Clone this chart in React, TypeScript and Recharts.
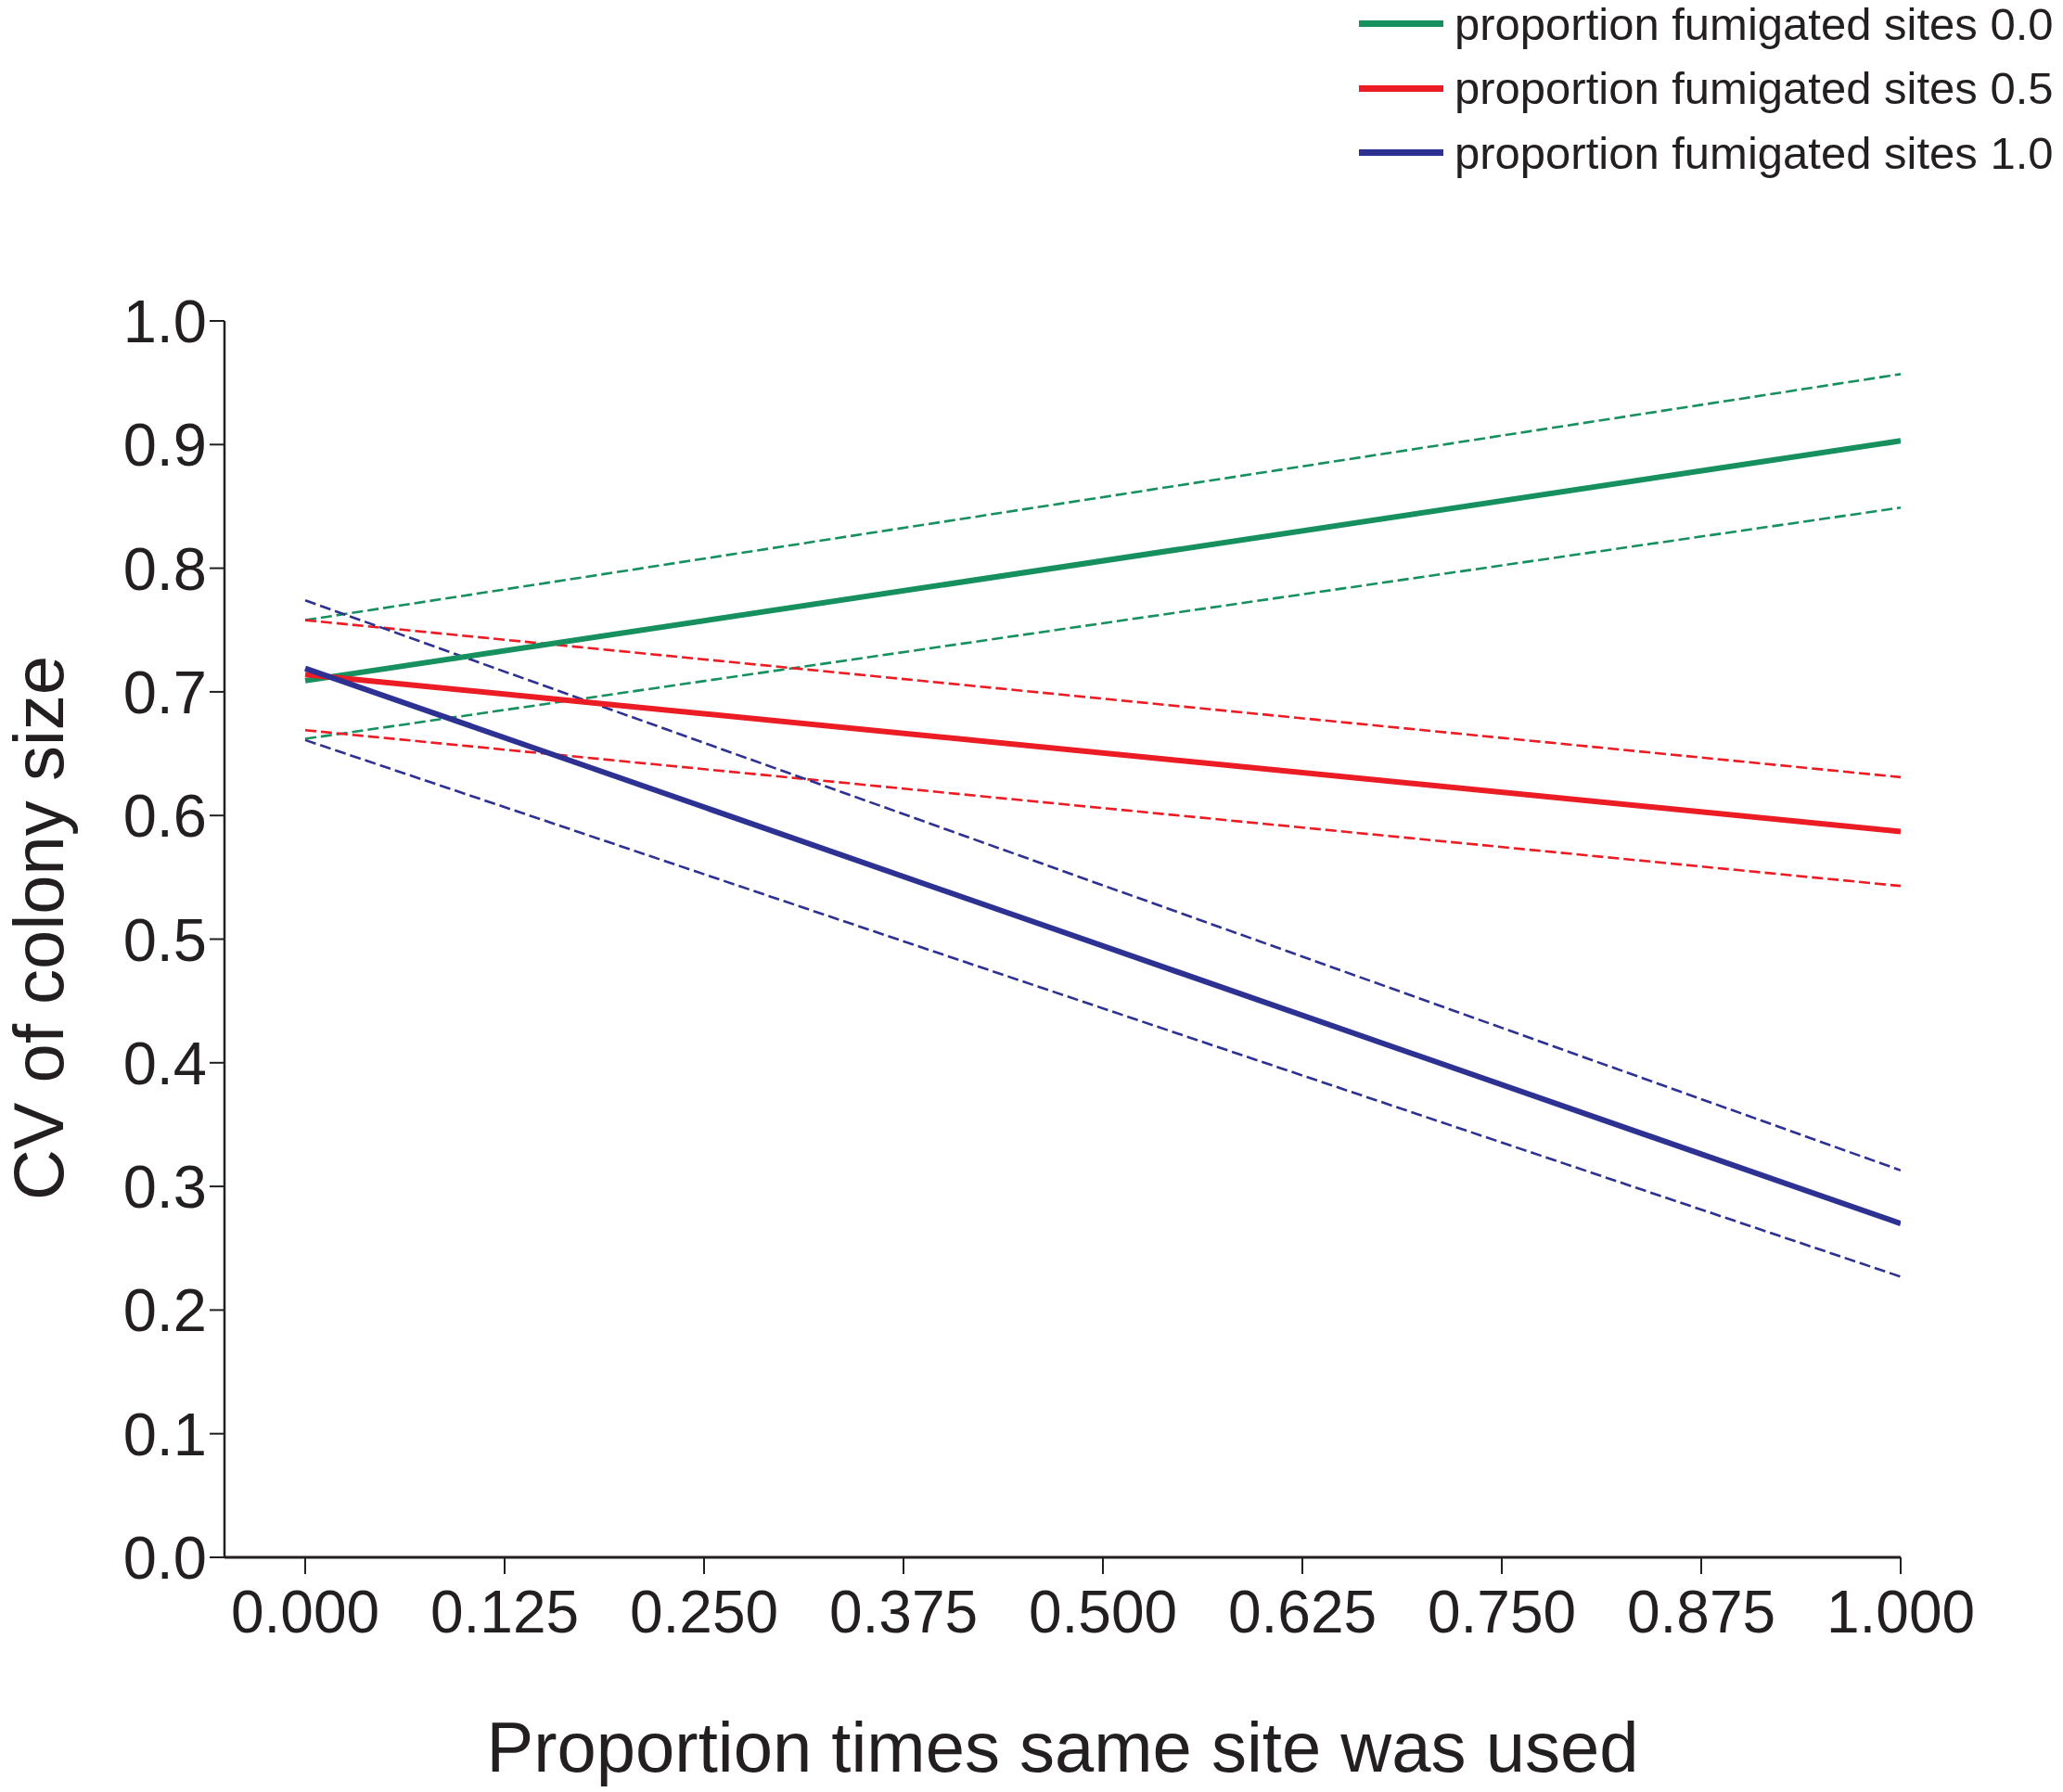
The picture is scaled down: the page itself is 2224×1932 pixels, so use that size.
import React from 'react'
import { LineChart, Line, XAxis, YAxis, Legend, Label } from 'recharts'

// x positions of the fitted lines (proportion times same site was used)
const xValues = [0, 1]

// fitted lines and their confidence limits
const fit00 = [0.709, 0.903]
const upper00 = [0.758, 0.957]
const lower00 = [0.662, 0.849]

const fit05 = [0.714, 0.587]
const upper05 = [0.758, 0.631]
const lower05 = [0.669, 0.543]

const fit10 = [0.719, 0.27]
const upper10 = [0.774, 0.313]
const lower10 = [0.661, 0.227]

const xTicks = [0, 0.125, 0.25, 0.375, 0.5, 0.625, 0.75, 0.875, 1]
const yTicks = [0, 0.1, 0.2, 0.3, 0.4, 0.5, 0.6, 0.7, 0.8, 0.9, 1]

const seriesNames = [
  'proportion fumigated sites 0.0',
  'proportion fumigated sites 0.5',
  'proportion fumigated sites 1.0',
]

const GREEN = '#16905f'
const RED = '#ec1c24'
const BLUE = '#2d3192'
const INK = '#231f20'
const FONT = '"Liberation Sans", Arial, Helvetica, sans-serif'

const data = xValues.map((x, i) => ({
  x,
  f00: fit00[i],
  u00: upper00[i],
  l00: lower00[i],
  f05: fit05[i],
  u05: upper05[i],
  l05: lower05[i],
  f10: fit10[i],
  u10: upper10[i],
  l10: lower10[i],
}))

const solid = [
  { key: 'f00', name: seriesNames[0], color: GREEN },
  { key: 'f05', name: seriesNames[1], color: RED },
  { key: 'f10', name: seriesNames[2], color: BLUE },
]

const dashed = [
  { key: 'u00', color: GREEN },
  { key: 'l00', color: GREEN },
  { key: 'u05', color: RED },
  { key: 'l05', color: RED },
  { key: 'u10', color: BLUE },
  { key: 'l10', color: BLUE },
]

const renderLegend = (props: any) => {
  // only the fitted lines go in the legend, in their own order
  const entries = seriesNames
    .map((name) => (props.payload || []).find((p: any) => p.value === name))
    .filter(Boolean)
  return (
    <div>
      {entries.map((entry: any) => (
        <div
          key={entry.value}
          style={{ display: 'flex', alignItems: 'center', height: 69.5 }}
        >
          <span
            style={{
              display: 'inline-block',
              width: 91,
              height: 7,
              background: entry.color,
              marginRight: 12,
            }}
          />
          <span
            style={{
              fontFamily: FONT,
              fontSize: 49,
              color: INK,
              whiteSpace: 'nowrap',
            }}
          >
            {entry.value}
          </span>
        </div>
      ))}
    </div>
  )
}

const App = () => {
  return (
    <div
      style={{
        position: 'absolute',
        top: 0,
        left: 0,
        width: 2224,
        height: 1932,
        background: '#fff',
      }}
    >
      <LineChart
        width={2224}
        height={1932}
        data={data}
        margin={{ top: 346, right: 175, left: 0, bottom: 0 }}
      >
        <XAxis
          dataKey="x"
          type="number"
          domain={[-0.0506, 1]}
          ticks={xTicks}
          allowDataOverflow
          tickFormatter={(v: number) => v.toFixed(3)}
          height={253}
          axisLine={{ stroke: INK, strokeWidth: 3 }}
          tickLine={{ stroke: INK, strokeWidth: 2 }}
          tickSize={18}
          tickMargin={18}
          tick={{ fontSize: 64, fill: INK, fontFamily: FONT }}
        >
          <Label
            content={(props: any) => {
              const vb = props.viewBox || {}
              const cx = (vb.x ?? 242) + (vb.width ?? 1807) / 2
              return (
                <text
                  x={cx}
                  y={1910}
                  textAnchor="middle"
                  fontSize={76}
                  fontFamily={FONT}
                  fill={INK}
                >
                  Proportion times same site was used
                </text>
              )
            }}
          />
        </XAxis>
        <YAxis
          type="number"
          domain={[0, 1]}
          ticks={yTicks}
          tickFormatter={(v: number) => v.toFixed(1)}
          width={242}
          axisLine={{ stroke: INK, strokeWidth: 2.5 }}
          tickLine={{ stroke: INK, strokeWidth: 2 }}
          tickSize={16}
          tickMargin={3}
          tick={{ fontSize: 65, fill: INK, fontFamily: FONT }}
        >
          <Label
            content={(props: any) => {
              const vb = props.viewBox || {}
              const cy = (vb.y ?? 346) + (vb.height ?? 1333) / 2 - 12
              return (
                <text
                  x={41}
                  y={cy}
                  transform={`rotate(-90, 41, ${cy})`}
                  textAnchor="middle"
                  dominantBaseline="central"
                  fontSize={76}
                  fontFamily={FONT}
                  fill={INK}
                >
                  CV of colony size
                </text>
              )
            }}
          />
        </YAxis>
        <Legend
          layout="vertical"
          align="center"
          verticalAlign="middle"
          content={renderLegend}
          wrapperStyle={{ position: 'absolute', top: -9, left: 1465, width: 760 }}
        />
        {dashed.map((s) => (
          <Line
            key={s.key}
            type="linear"
            dataKey={s.key}
            stroke={s.color}
            strokeWidth={2.6}
            strokeDasharray="12 5"
            dot={false}
            activeDot={false}
            legendType="none"
            isAnimationActive={false}
          />
        ))}
        {solid.map((s) => (
          <Line
            key={s.key}
            type="linear"
            dataKey={s.key}
            name={s.name}
            stroke={s.color}
            strokeWidth={6}
            dot={false}
            activeDot={false}
            isAnimationActive={false}
          />
        ))}
      </LineChart>
    </div>
  )
}

export default App
